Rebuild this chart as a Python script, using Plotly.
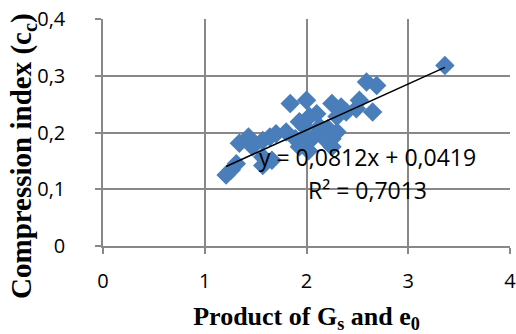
import plotly.graph_objects as go

# Data
gs_e0 = [3.36, 2.59, 2.69, 2.65, 2.52, 2.49, 2.39, 2.34, 2.25, 2.30, 2.00, 1.84,
         2.10, 2.03, 1.93, 1.98, 2.13, 2.21, 2.30, 2.25, 2.16, 2.07, 1.97, 1.89,
         1.80, 1.70, 1.64, 1.57, 1.43, 1.34, 1.47, 1.57, 1.66, 1.57, 1.31, 1.21,
         1.26, 2.25, 1.93, 2.02]
cc = [0.318, 0.289, 0.283, 0.236, 0.257, 0.242, 0.236, 0.245, 0.251, 0.228, 0.257, 0.251,
      0.233, 0.228, 0.219, 0.210, 0.210, 0.207, 0.201, 0.189, 0.192, 0.192, 0.186, 0.189,
      0.201, 0.198, 0.192, 0.186, 0.192, 0.181, 0.175, 0.157, 0.151, 0.142, 0.145, 0.125,
      0.134, 0.175, 0.175, 0.168]
slope = 0.0812
intercept = 0.0419
r2_text = "0,7013"
x_ticks = [0, 1, 2, 3, 4]
y_ticks = [0, 0.1, 0.2, 0.3, 0.4]
y_tick_labels = ["0", "0,1", "0,2", "0,3", "0,4"]

fig = go.Figure()
fig.add_trace(go.Scatter(
    x=gs_e0, y=cc, mode="markers",
    marker=dict(symbol="diamond", size=15, color="#4A7EBB", line=dict(width=0)),
    showlegend=False))

x0, x1 = min(gs_e0), max(gs_e0)
fig.add_trace(go.Scatter(
    x=[x0, x1], y=[slope * x0 + intercept, slope * x1 + intercept],
    mode="lines", line=dict(color="black", width=1.5), showlegend=False))

fig.add_annotation(x=2.6, y=0.156, xref="x", yref="y",
                   text="y = 0,0812x + 0,0419", showarrow=False,
                   font=dict(family="Open Sans", size=23, color="black"))
fig.add_annotation(x=2.6, y=0.098, xref="x", yref="y",
                   text="R² = " + r2_text, showarrow=False,
                   font=dict(family="Open Sans", size=23, color="black"))

# y-axis title (placed as in the reference, slightly below plot centre)
fig.add_annotation(x=-0.195, y=0.395, xref="paper", yref="paper",
                   text="<b>Compression index (c<sub>c</sub>)</b>", textangle=-90,
                   showarrow=False, xanchor="center", yanchor="middle",
                   font=dict(family="Liberation Serif", size=29, color="black"))

axis_common = dict(showgrid=True, gridcolor="#888888", gridwidth=1.5,
                   showline=True, linecolor="#888888", linewidth=1.5,
                   ticks="outside", tickcolor="#888888", ticklen=6, tickwidth=1.5,
                   zeroline=False, ticklabeloverflow="allow", automargin=False,
                   tickfont=dict(family="Open Sans", size=20, color="black"))

fig.update_xaxes(range=[0, 4], tickvals=x_ticks, ticktext=[str(v) for v in x_ticks],
                 ticklabelstandoff=10,
                 title=dict(text="<b>Product of G<sub>s</sub> and e<sub>0</sub></b>",
                            font=dict(family="Liberation Serif", size=26, color="black"),
                            standoff=16),
                 **axis_common)
fig.update_yaxes(range=[0, 0.4], tickvals=y_ticks, ticktext=y_tick_labels,
                 ticklabelstandoff=26,
                 **axis_common)

fig.update_layout(width=516, height=334, plot_bgcolor="white", paper_bgcolor="white",
                  margin=dict(l=103, r=6, t=19, b=88))

fig.write_html("out.html")
